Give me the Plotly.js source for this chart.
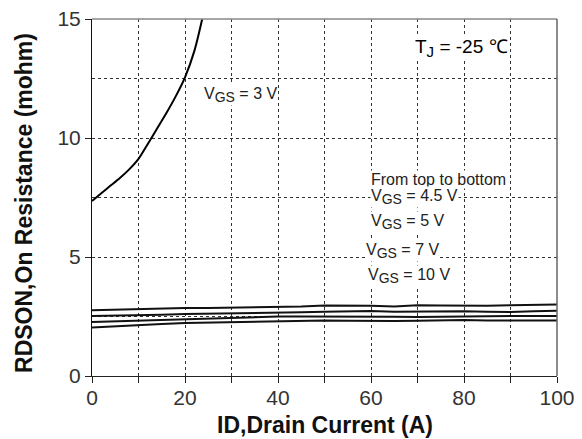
<!DOCTYPE html>
<html>
<head>
<meta charset="utf-8">
<script src="https://cdn.plot.ly/plotly-3.0.1.min.js"></script>
<style>html,body{margin:0;padding:0;background:#fff}#chart{width:582px;height:439px}</style>
</head>
<body>
<div id="chart"></div>
<script>
// VGS = 3 V curve
var id3 = [0, 2, 4, 6, 8, 10, 12, 14, 16, 18, 20, 22, 23.7];
var r3  = [7.35, 7.68, 8.0, 8.32, 8.68, 9.12, 9.75, 10.4, 11.05, 11.75, 12.55, 13.65, 15.0];
// Lower curves (from top to bottom: 4.5 V, 5 V, 7 V, 10 V)
var idLow = [0, 5, 10, 15, 20, 25, 30, 35, 40, 45, 50, 55, 60, 65, 70, 75, 80, 85, 90, 95, 100];
var r45 = [2.76, 2.79, 2.80, 2.83, 2.86, 2.86, 2.87, 2.88, 2.90, 2.92, 2.96, 2.97, 2.95, 2.92, 2.97, 2.96, 2.94, 2.95, 2.97, 2.98, 3.00];
var r5  = [2.52, 2.53, 2.55, 2.57, 2.60, 2.61, 2.62, 2.64, 2.66, 2.68, 2.70, 2.72, 2.73, 2.70, 2.71, 2.73, 2.72, 2.70, 2.69, 2.72, 2.74];
var r7  = [2.27, 2.30, 2.33, 2.37, 2.40, 2.43, 2.45, 2.48, 2.50, 2.50, 2.50, 2.51, 2.52, 2.49, 2.48, 2.50, 2.50, 2.51, 2.52, 2.52, 2.52];
var r10 = [2.04, 2.10, 2.15, 2.19, 2.23, 2.25, 2.28, 2.29, 2.30, 2.32, 2.33, 2.32, 2.30, 2.31, 2.32, 2.34, 2.35, 2.33, 2.32, 2.33, 2.33];
var lowSeries = [r45, r5, r7, r10];
// Tick labels
var xTickVals = [0, 20, 40, 60, 80, 100];
var xTickText = ['0', '20', '40', '60', '80', '100'];
var yTickVals = [0, 5, 10, 15];
var yTickText = ['0', '5', '10', '15'];
// Texts
var SUB = function (s, sz) { return '<sub><span style="font-size:' + (sz || 14) + 'px">' + s + '</span></sub>'; };
var tjText = 'T' + SUB('J', 15) + ' = -25 ℃';
var v3Text = 'V' + SUB('GS') + ' = 3 V';
var legendLines = ['From top to bottom', 'V' + SUB('GS') + ' = 4.5 V', 'V' + SUB('GS') + ' = 5 V', 'V' + SUB('GS') + ' = 7 V', 'V' + SUB('GS') + ' = 10 V'];
var legendX = [59.8, 59.7, 59.8, 58.8, 59.1];
var legendY = [8.24, 7.52, 6.47, 5.25, 4.2];

var FONT = 'Liberation Sans, Arial, sans-serif';
var traces = [{x: id3, y: r3, mode: 'lines', line: {color: '#000', width: 2, shape: 'spline', smoothing: 0.8}, hoverinfo: 'skip'}];
lowSeries.forEach(function (s) {
  traces.push({x: idLow, y: s, mode: 'lines', line: {color: '#111', width: 2}, hoverinfo: 'skip'});
});

var anns = [
  {x: 69.3, y: 13.78, xref: 'x', yref: 'y', text: tjText, showarrow: false, xanchor: 'left',
   font: {family: FONT, size: 19, color: '#000'}, bgcolor: '#fff', borderpad: 0},
  {x: 23.9, y: 11.8, xref: 'x', yref: 'y', text: v3Text, showarrow: false, xanchor: 'left',
   font: {family: FONT, size: 16, color: '#222'}, bgcolor: '#fff', borderpad: 0}
];
legendLines.forEach(function (t, i) {
  anns.push({x: legendX[i], y: legendY[i], xref: 'x', yref: 'y', text: t, showarrow: false, xanchor: 'left',
    font: {family: FONT, size: 16, color: '#222'}, bgcolor: '#fff', borderpad: 0});
});
anns.push({x: 0.5, y: -0.138, xref: 'paper', yref: 'paper', yanchor: 'middle', text: '<b>ID,Drain Current (A)</b>', showarrow: false,
  font: {family: FONT, size: 23, color: '#111'}});
anns.push({x: -0.146, y: 0.485, xref: 'paper', yref: 'paper', xanchor: 'center', yanchor: 'middle', textangle: -90,
  text: '<b>RDSON,On Resistance (mohm)</b>', showarrow: false,
  font: {family: FONT, size: 23, color: '#111'}});

var gridDash = '3px,3px';
var layout = {
  width: 582, height: 439,
  margin: {l: 92, r: 25, t: 19, b: 63},
  paper_bgcolor: '#fff', plot_bgcolor: '#fff',
  showlegend: false,
  xaxis: {
    range: [0, 100], tickvals: xTickVals, ticktext: xTickText,
    ticks: 'outside', ticklen: 6, tickcolor: '#222',
    showline: true, linecolor: '#222', linewidth: 1,
    showgrid: true, gridcolor: '#333', gridwidth: 1, griddash: gridDash,
    minor: {dtick: 10, ticks: 'outside', ticklen: 6, tickcolor: '#222', showgrid: true, gridcolor: '#333', griddash: gridDash},
    zeroline: false, ticklabelstandoff: -3,
    tickfont: {family: FONT, size: 21, color: '#333'}
  },
  yaxis: {
    range: [0, 15], tickvals: yTickVals, ticktext: yTickText,
    ticks: 'outside', ticklen: 6, tickcolor: '#222',
    showline: true, linecolor: '#111', linewidth: 1,
    showgrid: true, gridcolor: '#333', gridwidth: 1, griddash: gridDash,
    minor: {dtick: 2.5, ticks: '', showgrid: true, gridcolor: '#333', griddash: gridDash},
    zeroline: false,
    tickfont: {family: FONT, size: 21, color: '#333'}
  },
  shapes: [
    {type: 'line', xref: 'paper', yref: 'paper', x0: 0, x1: 1, y0: 1, y1: 1, line: {color: '#888', width: 1.5}},
    {type: 'line', xref: 'paper', yref: 'paper', x0: 1, x1: 1, y0: 0, y1: 1, line: {color: '#666', width: 1.5}}
  ],
  annotations: anns
};
Plotly.newPlot('chart', traces, layout, {staticPlot: true});
</script>
</body>
</html>
